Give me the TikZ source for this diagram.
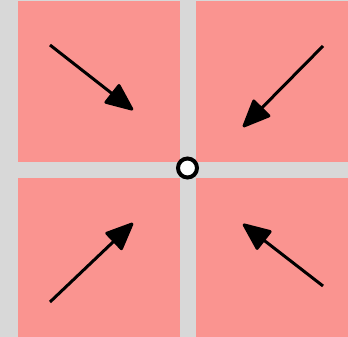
\documentclass[tikz,border=0pt]{standalone}
\usepackage{tikz}
\usetikzlibrary{arrows.meta}

\definecolor{bggray}{RGB}{216,216,216}
\definecolor{tilepink}{RGB}{250,148,144}

\begin{document}
\begin{tikzpicture}[
  x=1pt, y=-1pt,
  tile/.style={fill=tilepink, draw=none},
  arrow/.style={-{Triangle[length=30pt, width=25pt, round]}, line width=3pt, black},
  pivot/.style={circle, draw=black, line width=4pt, fill=white, minimum size=19pt, inner sep=0pt}
]
% background and margins
\fill[bggray] (0,0) rectangle (348,337);
\useasboundingbox (0,0) rectangle (348,337);

% four tiles
\fill[tile] (18,1) rectangle (180,162);
\fill[tile] (196,1) rectangle (348,162);
\fill[tile] (18,178) rectangle (180,337);
\fill[tile] (196,178) rectangle (348,337);

% arrow ends
\coordinate (tlS) at (50,45);   \coordinate (tlE) at (133,110);
\coordinate (trS) at (323,46);  \coordinate (trE) at (243,127);
\coordinate (blS) at (50,302);  \coordinate (blE) at (133,223);
\coordinate (brS) at (323,286); \coordinate (brE) at (243,224);

\draw[arrow] (tlS) -- (tlE);
\draw[arrow] (trS) -- (trE);
\draw[arrow] (blS) -- (blE);
\draw[arrow] (brS) -- (brE);

\node[pivot] (center) at (187.5,168) {};
\end{tikzpicture}
\end{document}
